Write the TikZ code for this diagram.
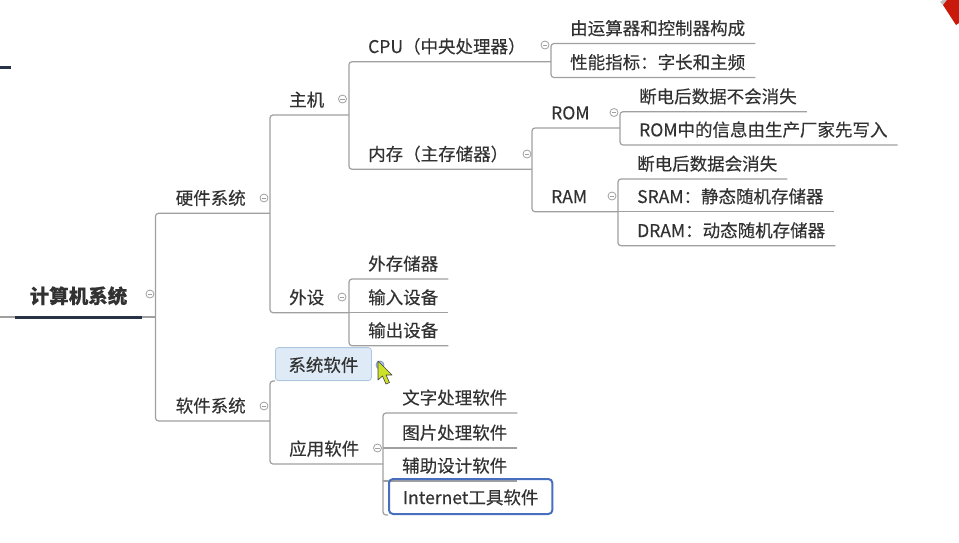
\documentclass[tikz,border=0pt]{standalone}
\usepackage{fontspec}
\usepackage{tikz}
\usetikzlibrary{backgrounds}
\newfontfamily\cjk[FakeBold=0.3]{Noto Sans CJK SC}

\definecolor{linegray}{RGB}{160,160,160}
\definecolor{textgray}{RGB}{50,50,50}
\definecolor{rootline}{RGB}{40,50,70}
\definecolor{selfill}{RGB}{222,234,246}
\definecolor{seldraw}{RGB}{175,198,225}
\definecolor{focusblue}{RGB}{72,110,190}
\definecolor{penred}{RGB}{200,25,10}
\definecolor{cursorfill}{RGB}{205,225,40}

\tikzset{
	topic/.style={font=\cjk\fontsize{17.5}{20}\selectfont, text=textgray, anchor=south west,
		inner xsep=10pt, inner ysep=5.5pt, text height=14pt, text depth=3pt},
	rootnode/.style={font=\cjk\bfseries\fontsize{19.5}{22}\selectfont, text=textgray, anchor=south,
		minimum width=127pt, inner ysep=10pt, text height=15pt, text depth=3.5pt},
	selbox/.style={topic, fill=selfill, draw=seldraw, line width=.8pt, rounded corners=3pt,
		inner xsep=13pt, text height=18pt, minimum height=33pt},
	focusbox/.style={topic, draw=focusblue, line width=2pt, rounded corners=4pt,
		inner xsep=14pt, text height=18pt, minimum height=35pt},
	link/.style={draw=linegray, line width=1.2pt, rounded corners=3pt},
	fold/.style={circle, draw=linegray, fill=white, line width=.8pt, minimum size=8pt, inner sep=0pt,
		path picture={\draw[linegray, line width=.6pt]
			([xshift=-2.2pt]path picture bounding box.center) -- ([xshift=2.2pt]path picture bounding box.center);}}
}

\begin{document}
\begin{tikzpicture}[x=1pt,y=-1pt]
	\useasboundingbox (0,0) rectangle (959,542);

	% brackets
	\coordinate (b0) at (155.5,0);
	\coordinate (bhw) at (270,0);
	\coordinate (bsw) at (270,0);
	\coordinate (bhost) at (349,0);
	\coordinate (bdev) at (349,0);
	\coordinate (bcpu) at (551,0);
	\coordinate (bmem) at (532,0);
	\coordinate (brom) at (620,0);
	\coordinate (bram) at (618,0);
	\coordinate (bapp) at (383,0);

	\node[rootnode](root) at (78.5,317) {计算机系统};

	\node[topic](hw) at (165.5,213.3) {硬件系统};
	\node[topic](sw) at (165.5,421) {软件系统};

	\node[topic](host) at (279,115) {主机};
	\node[topic](dev) at (279,312.7) {外设};

	\node[topic](cpu) at (358,61.7) {CPU（中央处理器）};
	\node[topic](mem) at (358,169.3) {内存（主存储器）};
	\node[topic](c1) at (560,43.5) {由运算器和控制器构成};
	\node[topic](c2) at (560,77.5) {性能指标：字长和主频};

	\node[topic](rom) at (541,128) {ROM};
	\node[topic](ram) at (541,211.7) {RAM};
	\node[topic](r1) at (629,111.7) {断电后数据不会消失};
	\node[topic](r2) at (629,145) {ROM中的信息由生产厂家先写入};
	\node[topic](a1) at (627,179) {断电后数据会消失};
	\node[topic](a2) at (627,211.7) {SRAM：静态随机存储器};
	\node[topic](a3) at (627,245.7) {DRAM：动态随机存储器};

	\node[topic](d1) at (358,279) {外存储器};
	\node[topic](d2) at (358,312.7) {输入设备};
	\node[topic](d3) at (358,345.7) {输出设备};

	\node[selbox](sys) at (275,381) {系统软件};
	\node[topic](app) at (279,464) {应用软件};
	\node[topic](p1) at (392,413) {文字处理软件};
	\node[topic](p2) at (392,448) {图片处理软件};
	\node[topic](p3) at (392,481) {辅助设计软件};
	\node[focusbox](p4) at (388,515) {Internet工具软件};

	% fold markers
	\node[fold](froot) at (150,294) {};
	\node[fold](fhw) at (264,198) {};
	\node[fold](fsw) at (264,406) {};
	\node[fold](fhost) at (342.5,99) {};
	\node[fold](fdev) at (342,297) {};
	\node[fold](fcpu) at (545,45) {};
	\node[fold](fmem) at (527,154) {};
	\node[fold](from) at (614,112.5) {};
	\node[fold](fram) at (612,196) {};
	\node[fold](fapp) at (377.5,448) {};
	\node[fold, draw=focusblue!70, fill=seldraw](fsys) at (380,365) {};

	\begin{scope}[on background layer]
		\draw[link] (root.south west) -- ++(-15,0);
		\draw[link] (root.south east) -- (root.south east -| b0);
		\draw[rootline, line width=3pt] (root.south west) -- (root.south east);
		\draw[link] (hw.south west -| bhw) -- (hw.south west -| b0) -- (sw.south west -| b0) -- (sw.south west -| bsw);

		\draw[link] (host.south west -| bhost) -- (host.south west -| bhw) -- (dev.south west -| bhw) -- (dev.south west -| bdev);
		\draw[link] (cpu.south west -| bcpu) -- (cpu.south west -| bhost) -- (mem.south west -| bhost) -- (mem.south west -| bmem);
		\draw[link] (c1.south east) -- (c1.south west -| bcpu) -- (c2.south west -| bcpu) -- (c2.south east);

		\draw[link] (rom.south west -| brom) -- (rom.south west -| bmem) -- (ram.south west -| bmem) -- (ram.south west -| bram);
		\draw[link] (r1.south east) -- (r1.south west -| brom) -- (r2.south west -| brom) -- (r2.south east);
		\draw[link] (a1.south east) -- (a1.south west -| bram) -- (a3.south west -| bram) -- (a3.south east);
		\draw[link] (a2.south east) -- (a2.south west -| bram);

		\draw[link] (d1.south east) -- (d1.south west -| bdev) -- (d3.south west -| bdev) -- (d3.south east);
		\draw[link] (d2.south east) -- (d2.south west -| bdev);

		\draw[link] (sys.south west) -- (sys.south west -| bsw) -- (app.south west -| bsw) -- (app.south west -| bapp);
		\draw[link] (p1.south east) -- (p1.south west -| bapp) -- (p4.south west -| bapp) -- (p4.south west);
		\draw[link] (p2.south east) -- (p2.south west -| bapp);
		\draw[link] (p3.south east) -- (p3.south west -| bapp);
	\end{scope}

	% screen marks
	\fill[rootline] (0,65.5) rectangle (11,69);
	\fill[black!25] (940,2) -- (943,0) -- (947,0) -- (943,5) -- cycle;
	\fill[penred] (943,5) -- (947,0) -- (959,0) -- (959,23) -- (956,25) -- cycle;
	\filldraw[fill=cursorfill, draw=black!75, line width=.6pt, line join=round]
		(378,361) -- (378,380) -- (382.5,376) -- (386,384) -- (389.5,382.5) -- (386,375) -- (392,375) -- cycle;
\end{tikzpicture}
\end{document}
